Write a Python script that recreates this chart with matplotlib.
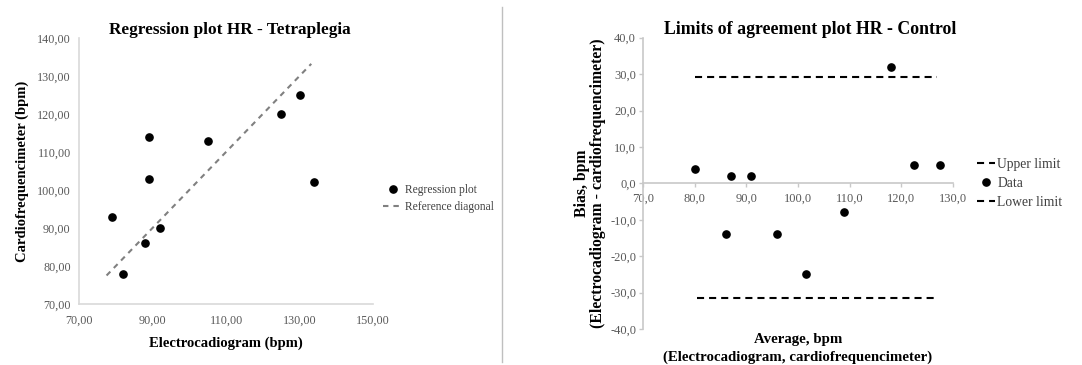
import matplotlib
matplotlib.use("Agg")
import matplotlib.pyplot as plt
from matplotlib.lines import Line2D

plt.rcParams['font.family'] = ['Liberation Serif', 'DejaVu Serif']

# Left panel data
ecg = [79, 82, 88, 89, 89, 92, 105, 125, 130, 134]
cfm = [93, 78, 86, 114, 103, 90, 113, 120, 125, 102]
diag = [77.5, 133.2]
left_xticks = [70, 90, 110, 130, 150]
left_xlabels = ["70,00", "90,00", "110,00", "130,00", "150,00"]
left_yticks = [70, 80, 90, 100, 110, 120, 130, 140]
left_ylabels = ["70,00", "80,00", "90,00", "100,00", "110,00", "120,00", "130,00", "140,00"]

# Right panel data
avg = [80, 86, 87, 91, 96, 101.5, 109, 118, 122.5, 127.5]
bias = [4, -14, 2, 2, -14, -25, -8, 32, 5, 5]
upper_limit = 29.3
lower_limit = -31.6
upper_x = [80, 127]
lower_x = [80.5, 127]
right_xticks = [70, 80, 90, 100, 110, 120, 130]
right_xlabels = ["70,0", "80,0", "90,0", "100,0", "110,0", "120,0", "130,0"]
right_yticks = [-40, -30, -20, -10, 0, 10, 20, 30, 40]
right_ylabels = ["-40,0", "-30,0", "-20,0", "-10,0", "0,0", "10,0", "20,0", "30,0", "40,0"]

W, H = 1082, 365
fig = plt.figure(figsize=(W / 100, H / 100), dpi=100)
fig.patch.set_facecolor('white')

spine_c = '#d9d9d9'
tick_c = '#595959'

def fx(p):
    return p / W

def fy(p):
    return 1 - p / H

# ---------------- left ----------------
ax1 = fig.add_axes([fx(79), fy(304), fx(373 - 79), (304 - 38) / H])
ax1.plot(ecg, cfm, 'o', color='black', markersize=5.2, label='Regression plot', zorder=3)
ax1.plot(diag, diag, color='#808080', lw=1.5, dashes=(2.6, 2.4), label='Reference diagonal')
ax1.set_xlim(70, 150)
ax1.set_ylim(70, 140)
ax1.set_xticks(left_xticks)
ax1.set_xticklabels(left_xlabels)
ax1.set_yticks(left_yticks)
ax1.set_yticklabels(left_ylabels)
for s in ['top', 'right']:
    ax1.spines[s].set_visible(False)
for s in ['left', 'bottom']:
    ax1.spines[s].set_color(spine_c)
    ax1.spines[s].set_linewidth(1.2)
ax1.tick_params(length=0, labelsize=8.7, colors=tick_c)
ax1.tick_params(axis='x', pad=8)
ax1.tick_params(axis='y', pad=6)
ax1.set_title('Regression plot HR - Tetraplegia', fontsize=12.4, fontweight='bold', pad=2, x=0.512)
ax1.set_xlabel('Electrocadiogram (bpm)', fontsize=10.5, fontweight='bold', labelpad=7)
ax1.set_ylabel('Cardiofrequencimeter (bpm)', fontsize=10.5, fontweight='bold', labelpad=6)
leg1 = ax1.legend(loc='center left', bbox_to_anchor=(fx(383), fy(198.5)),
                  bbox_transform=fig.transFigure, frameon=False, borderpad=0, borderaxespad=0,
                  fontsize=8.3, handlelength=1.75, handletextpad=0.2, labelspacing=0.43)
for t in leg1.get_texts():
    t.set_color('#404040')

# divider
fig.add_artist(Line2D([fx(502), fx(502)], [fy(362), fy(7)], color='#bfbfbf', lw=1))

# ---------------- right ----------------
ax2 = fig.add_axes([fx(643), fy(329), fx(953 - 643), (329 - 37.7) / H])
ax2.plot(upper_x, [upper_limit, upper_limit], color='black', lw=1.5, dashes=(3.4, 2.4), label='Upper limit')
ax2.plot(avg, bias, 'o', color='black', markersize=5.2, label='Data', zorder=3)
ax2.plot(lower_x, [lower_limit, lower_limit], color='black', lw=1.5, dashes=(3.4, 2.4), label='Lower limit')
ax2.set_xlim(70, 130)
ax2.set_ylim(-40, 40)
ax2.set_xticks(right_xticks)
ax2.set_xticklabels(right_xlabels)
ax2.set_yticks(right_yticks)
ax2.set_yticklabels(right_ylabels)
for s in ['top', 'right']:
    ax2.spines[s].set_visible(False)
ax2.spines['bottom'].set_position(('data', 0))
for s in ['left', 'bottom']:
    ax2.spines[s].set_color('#c8c8c8')
    ax2.spines[s].set_linewidth(1.2)
ax2.tick_params(axis='both', length=3, width=1, color='#c8c8c8', labelsize=9, labelcolor=tick_c)
ax2.tick_params(axis='x', pad=3.5)
ax2.tick_params(axis='y', pad=2)
ax2.set_title('Limits of agreement plot HR - Control', fontsize=12.8, fontweight='bold', pad=3, x=0.54)
ax2.set_xlabel('Average, bpm\n(Electrocadiogram, cardiofrequencimeter)', fontsize=10.7,
               fontweight='bold', linespacing=1.4)
ax2.xaxis.set_label_coords(0.5, -0.015, transform=ax2.transAxes)
ax2.xaxis.label.set_va('top')
ax2.set_ylabel('Bias, bpm\n(Electrocadiogram - cardiofrequencimeter)', fontsize=11.3,
               fontweight='bold', labelpad=3, linespacing=0.95)
leg2 = ax2.legend(loc='center left', bbox_to_anchor=(fx(977), fy(183.5)),
                  bbox_transform=fig.transFigure, frameon=False, borderpad=0, borderaxespad=0,
                  fontsize=9.8, handlelength=1.3, handletextpad=0.2, labelspacing=0.43)
for t in leg2.get_texts():
    t.set_color('#404040')

fig.savefig('out.png', dpi=100, facecolor='white')
